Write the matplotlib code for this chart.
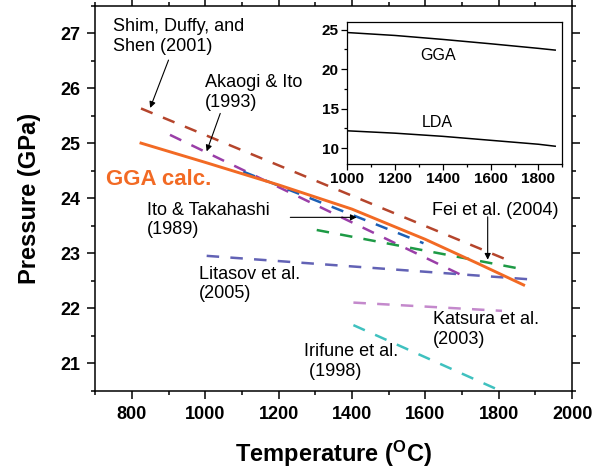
import matplotlib as mpl
mpl.use('Agg')
import matplotlib.pyplot as plt
from matplotlib.ticker import MultipleLocator

plt.rcParams['font.family'] = ['Liberation Sans', 'DejaVu Sans']
plt.rcParams['mathtext.fontset'] = 'custom'
plt.rcParams['mathtext.rm'] = 'Liberation Sans'
plt.rcParams['mathtext.bf'] = 'Liberation Sans:bold'

# GGA calculation (solid orange)
gga_T = [825, 1000, 1200, 1400, 1600, 1750, 1868]
gga_P = [25.0, 24.65, 24.24, 23.8, 23.25, 22.79, 22.42]

# experimental phase boundaries (dashed)
shim_T, shim_P = [825, 1840], [25.63, 22.83]
akaogi_T, akaogi_P = [904, 1705], [25.15, 22.58]
ito_T, ito_P = [1104, 1595], [24.48, 23.18]
fei_T, fei_P = [1304, 1863], [23.42, 22.71]
litasov_T, litasov_P = [1004, 1890], [22.95, 22.52]
katsura_T, katsura_P = [1404, 1809], [22.10, 21.95]
irifune_T, irifune_P = [1404, 1800], [21.69, 20.51]

# inset: GGA vs LDA
inset_T = [1000, 1200, 1400, 1600, 1800, 1870]
inset_gga = [24.62, 24.25, 23.75, 23.2, 22.62, 22.4]
inset_lda = [12.2, 11.9, 11.5, 11.0, 10.5, 10.25]

fig = plt.figure(figsize=(6.06, 4.7), dpi=100)
ax = fig.add_axes([0.157, 0.169, 0.787, 0.819])

dash = (5, 4.5)
lw = 1.8
ax.plot(shim_T, shim_P, color='#b5452c', lw=lw, dashes=dash)
ax.plot(akaogi_T, akaogi_P, color='#9a3ea8', lw=lw, dashes=dash)
ax.plot(ito_T, ito_P, color='#1c5fb5', lw=lw, dashes=dash)
ax.plot(fei_T, fei_P, color='#1d9a45', lw=lw, dashes=dash)
ax.plot(litasov_T, litasov_P, color='#6262b5', lw=lw, dashes=dash)
ax.plot(katsura_T, katsura_P, color='#c489cc', lw=lw, dashes=dash)
ax.plot(irifune_T, irifune_P, color='#3fc1bf', lw=lw, dashes=dash)
ax.plot(gga_T, gga_P, color='#f26a24', lw=2.1)

ax.set_xlim(700, 2000)
ax.set_ylim(20.5, 27.5)
ax.xaxis.set_major_locator(MultipleLocator(200))
ax.xaxis.set_minor_locator(MultipleLocator(100))
ax.yaxis.set_major_locator(MultipleLocator(1))
ax.yaxis.set_minor_locator(MultipleLocator(0.5))
ax.tick_params(which='both', direction='out', top=True, right=True, width=1.1)
ax.tick_params(which='major', length=5.8, labelsize=13, pad=5)
ax.tick_params(which='minor', length=3)
for lab in ax.get_xticklabels() + ax.get_yticklabels():
    lab.set_fontweight('bold')
for sp in ax.spines.values():
    sp.set_linewidth(1.1)

ax.set_xlabel(r'Temperature ($\mathbf{^{O}}$C)', fontsize=17, fontweight='bold', labelpad=12)
ax.set_ylabel('Pressure (GPa)', fontsize=17, fontweight='bold', labelpad=14)

fs = 13
ax.text(750, 26.94, 'Shim, Duffy, and\nShen (2001)', fontsize=fs, va='center')
ax.text(1000, 25.92, 'Akaogi & Ito\n(1993)', fontsize=fs, va='center')
ax.text(730, 24.24, 'GGA calc.', fontsize=16, fontweight='bold', color='#f26a24', va='baseline')
ax.text(841, 23.6, 'Ito & Takahashi\n(1989)', fontsize=fs, va='center')
ax.text(1618, 23.77, 'Fei et al. (2004)', fontsize=fs, va='center')
ax.text(983, 22.44, 'Litasov et al.\n(2005)', fontsize=fs, va='center')
ax.text(1620, 21.61, 'Katsura et al.\n(2003)', fontsize=fs, va='center')
ax.text(1270, 21.03, 'Irifune et al.\n (1998)', fontsize=fs, va='center')

arr = dict(arrowstyle='-|>', color='black', lw=0.8, mutation_scale=9, shrinkA=0, shrinkB=0)
ax.annotate('', xy=(850, 25.64), xytext=(900, 26.51), arrowprops=arr)
ax.annotate('', xy=(1004, 24.85), xytext=(1041, 25.54), arrowprops=arr)
ax.annotate('', xy=(1413, 23.65), xytext=(1232, 23.65), arrowprops=arr)
ax.annotate('', xy=(1770, 22.88), xytext=(1770, 23.66), arrowprops=arr)

# inset
ins = fig.add_axes([0.573, 0.651, 0.355, 0.303])
ins.plot(inset_T, inset_gga, color='black', lw=1.1)
ins.plot(inset_T, inset_lda, color='black', lw=1.1)
ins.set_xlim(1000, 1900)
ins.set_ylim(8, 26)
ins.xaxis.set_major_locator(MultipleLocator(200))
ins.xaxis.set_minor_locator(MultipleLocator(100))
ins.yaxis.set_major_locator(MultipleLocator(5))
ins.yaxis.set_minor_locator(MultipleLocator(2.5))
ins.tick_params(which='both', direction='out', width=0.9)
ins.tick_params(which='major', length=4, labelsize=11, pad=2)
ins.tick_params(which='minor', length=2)
for lab in ins.get_xticklabels() + ins.get_yticklabels():
    lab.set_fontweight('bold')
for sp in ins.spines.values():
    sp.set_linewidth(0.9)
ins.text(1380, 21.7, 'GGA', fontsize=11.5, ha='center', va='center')
ins.text(1376, 13.3, 'LDA', fontsize=11.5, ha='center', va='center')

fig.savefig('out.png', dpi=100)
